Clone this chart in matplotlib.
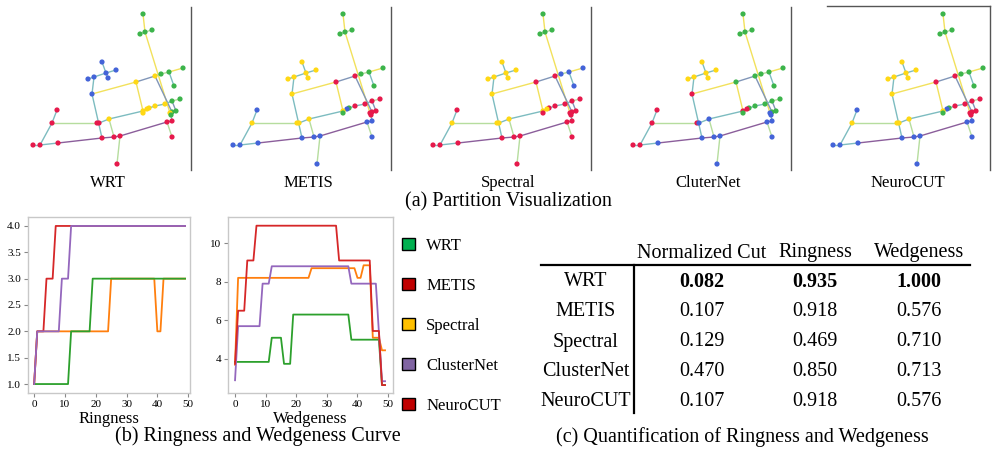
import matplotlib
matplotlib.use("Agg")
import matplotlib.pyplot as plt
from matplotlib.patches import Patch
from matplotlib.lines import Line2D

plt.rcParams['font.family'] = ['Liberation Serif', 'DejaVu Serif']

W, H = 992, 450

# ---- graph (node positions in panel pixels) ----
node_xy = [(143, 14), (145, 32), (140, 34), (152, 30), (102, 62), (106, 73), (116, 70),
           (108, 78), (94, 77), (88, 79), (92, 94), (136, 82), (155, 76), (161, 74),
           (169, 72), (183, 68), (174, 86), (180, 99), (172, 101), (165, 104), (155, 106),
           (149, 108), (147, 109), (143, 111), (176, 111), (172, 112), (170, 113), (171, 115),
           (172, 121), (167, 122), (172, 137), (109, 119), (97, 123), (99, 123), (57, 110),
           (52, 123), (33, 145), (40, 145), (58, 143), (102, 138), (114, 137), (120, 136),
           (117, 164), (143, 113)]

edges = [(0, 1, 'y'), (1, 2, 'g'), (1, 3, 'g'), (1, 26, 'y'), (4, 5, 't'), (5, 6, 't'),
         (5, 7, 't'), (5, 8, 't'), (8, 9, 't'), (8, 10, 't'), (10, 11, 'y'), (11, 12, 'b'),
         (12, 13, 'g'), (13, 14, 'g'), (14, 15, 'y'), (14, 16, 't'), (11, 23, 'y'),
         (12, 25, 'b'), (10, 39, 't'), (32, 33, 't'), (33, 31, 't'), (31, 23, 't'),
         (23, 22, 't'), (22, 21, 't'), (21, 20, 't'), (20, 19, 't'), (19, 18, 't'),
         (18, 17, 'g'), (18, 24, 'b'), (24, 25, 't'), (25, 26, 't'), (26, 27, 't'),
         (27, 28, 't'), (31, 40, 'g'), (35, 32, 'g'), (34, 35, 't'), (35, 37, 't'),
         (36, 37, 't'), (37, 38, 't'), (38, 39, 'p'), (39, 40, 'p'), (40, 41, 'p'),
         (41, 29, 'p'), (29, 28, 'p'), (29, 30, 'g'), (41, 42, 'g'), (43, 23, 't')]

edge_col = {'t': '#7dbcc0', 'y': '#f2e15c', 'g': '#b6dd9e', 'p': '#8b5e9b', 'b': '#8196b8'}
node_col = {'r': '#e6194b', 'b': '#4363d8', 'g': '#3cb44b', 'y': '#ffd814'}

# partition of each node (same order as node_xy)
part_wrt = ("gggg" "bbbbbbb" "yy" "gggggg" "yyyyy" "gg" "y" "g" "rrr" "y"
            "rrrrrrrrrrr" "y")
part_metis = ("gggg" "yyyyyyy" "rr" "gggg" "rrrr" "g" "b" "y" "rrrr" "bbb" "yyy"
              "b" "y" "bbbbbbb" "g")
part_spectral = ("gggg" "yyyyyyy" "rr" "bbbb" "rrrrr" "yy" "rrrrrrr" "yyy" "r" "y"
                 "rrrrrrr" "r")
part_clusternet = ("gggg" "yyyyyy" "r" "ggggggggggg" "rr" "gg" "bbbbbb" "r" "b"
                   "rrrr" "bbbbb" "g")
part_neurocut = part_metis

panel_names = ['WRT', 'METIS', 'Spectral', 'CluterNet', 'NeuroCUT']
panel_parts = [part_wrt, part_metis, part_spectral, part_clusternet, part_neurocut]

# ---- curves (vertices) ----
ring_wrt_x = [0, 11, 12, 18, 19, 49]
ring_wrt_y = [1, 1, 2, 2, 3, 3]
ring_metis_x = [0, 1, 3, 4, 6, 7, 49]
ring_metis_y = [1, 2, 2, 3, 3, 4, 4]
ring_spec_x = [0, 1, 24, 25, 39, 40, 41, 42, 49]
ring_spec_y = [1, 2, 2, 3, 3, 2, 2, 3, 3]
ring_cnet_x = [0, 1, 8, 9, 11, 12, 49]
ring_cnet_y = [1, 2, 2, 3, 3, 4, 4]

wedge_wrt_x = [0, 11, 12, 15, 16, 18, 19, 37, 38, 47, 48, 49]
wedge_wrt_y = [3.85, 3.85, 5.1, 5.1, 3.75, 3.75, 6.3, 6.3, 5.0, 5.0, 2.65, 2.65]
wedge_metis_x = [0, 1, 3, 4, 6, 7, 33, 34, 44, 45, 47, 48, 49]
wedge_metis_y = [3.75, 6.5, 6.5, 9.1, 9.1, 10.9, 10.9, 9.1, 9.1, 5.45, 5.45, 2.65, 2.65]
wedge_spec_x = [0, 1, 24, 25, 39, 40, 41, 42, 44, 45, 47, 48, 49]
wedge_spec_y = [3.7, 8.2, 8.2, 8.7, 8.7, 8.2, 8.2, 8.85, 8.85, 5.1, 5.1, 4.45, 4.45]
wedge_cnet_x = [0, 1, 8, 9, 11, 12, 37, 38, 46, 48, 49]
wedge_cnet_y = [2.9, 5.7, 5.7, 7.9, 7.9, 8.8, 8.8, 7.9, 7.9, 2.85, 2.85]

line_colors = {'WRT': '#2ca02c', 'METIS': '#d62728', 'Spectral': '#ff7f0e', 'ClusterNet': '#9467bd'}

legend_names = ['WRT', 'METIS', 'Spectral', 'ClusterNet', 'NeuroCUT']
legend_colors = ['#00b050', '#c00000', '#ffc000', '#8064a2', '#c00000']

# ---- table ----
tab_methods = ['WRT', 'METIS', 'Spectral', 'ClusterNet', 'NeuroCUT']
tab_cols = ['Normalized Cut', 'Ringness', 'Wedgeness']
tab_ncut = [0.082, 0.107, 0.129, 0.470, 0.107]
tab_ring = [0.935, 0.918, 0.469, 0.850, 0.918]
tab_wedge = [1.000, 0.576, 0.710, 0.713, 0.576]


def rect(x, y, w, h):
    return [x / W, 1 - (y + h) / H, w / W, h / H]


fig = plt.figure(figsize=(W / 100, H / 100), dpi=100)

# (a) partition panels
for i, (name, part) in enumerate(zip(panel_names, panel_parts)):
    if i < 4:
        ax = fig.add_axes(rect(200 * i, 7, 191, 163))
        ax.set_xlim(0, 191)
        ax.set_ylim(170, 7)
        spines_on = ['right']
    else:
        ax = fig.add_axes(rect(827, 6, 163, 164))
        ax.set_xlim(27, 190)
        ax.set_ylim(170, 6)
        spines_on = ['right', 'top']
    for s in ax.spines:
        ax.spines[s].set_visible(s in spines_on)
        ax.spines[s].set_color('#555555')
        ax.spines[s].set_linewidth(1.0)
    ax.set_xticks([])
    ax.set_yticks([])
    for a, b, c in edges:
        ax.plot([node_xy[a][0], node_xy[b][0]], [node_xy[a][1], node_xy[b][1]],
                color=edge_col[c], lw=1.0, zorder=1)
    xs = [p[0] for p in node_xy]
    ys = [p[1] for p in node_xy]
    ax.scatter(xs, ys, s=14, c=[node_col[k] for k in part], zorder=2, linewidths=0)
    cx = [108, 308, 508, 708, 908][i]
    fig.text(cx / W, 1 - 183 / H, name, ha='center', va='center', fontsize=12)

fig.text(508 / W, 1 - 202 / H, '(a) Partition Visualization', ha='center', va='center', fontsize=14.5)


def style_curve_ax(ax):
    for s in ax.spines.values():
        s.set_color('#c8c8c8')
        s.set_linewidth(1.0)
    ax.tick_params(labelsize=8, length=3, width=0.8, color='#888888', pad=2)
    ax.set_xticks([0, 10, 20, 30, 40, 50])


# (b) curves
ax1 = fig.add_axes(rect(28, 217, 162, 176))
ax1.plot(ring_spec_x, ring_spec_y, color=line_colors['Spectral'], lw=1.3)
ax1.plot(ring_wrt_x, ring_wrt_y, color=line_colors['WRT'], lw=1.3)
ax1.plot(ring_metis_x, ring_metis_y, color=line_colors['METIS'], lw=1.3)
ax1.plot(ring_cnet_x, ring_cnet_y, color=line_colors['ClusterNet'], lw=1.3)
ax1.set_xlim(-2, 50.6)
ax1.set_ylim(0.83, 4.17)
ax1.set_yticks([1.0, 1.5, 2.0, 2.5, 3.0, 3.5, 4.0])
ax1.set_yticklabels(['1.0', '1.5', '2.0', '2.5', '3.0', '3.5', '4.0'])
style_curve_ax(ax1)
ax1.set_xlabel('Ringness', fontsize=12, labelpad=1.5)

ax2 = fig.add_axes(rect(228, 217, 165, 176))
ax2.plot(wedge_spec_x, wedge_spec_y, color=line_colors['Spectral'], lw=1.3)
ax2.plot(wedge_wrt_x, wedge_wrt_y, color=line_colors['WRT'], lw=1.3)
ax2.plot(wedge_cnet_x, wedge_cnet_y, color=line_colors['ClusterNet'], lw=1.3)
ax2.plot(wedge_metis_x, wedge_metis_y, color=line_colors['METIS'], lw=1.3)
ax2.set_xlim(-2.3, 51.6)
ax2.set_ylim(2.24, 11.35)
ax2.set_yticks([4, 6, 8, 10])
style_curve_ax(ax2)
ax2.set_xlabel('Wedgeness', fontsize=12, labelpad=1.5)

handles = [Patch(facecolor=c, edgecolor='black', linewidth=1.0) for c in legend_colors]
fig.legend(handles, legend_names, loc='upper left', bbox_to_anchor=(402 / W, 1 - 238 / H),
           frameon=False, fontsize=12, handlelength=0.75, handleheight=0.75,
           handletextpad=0.7, labelspacing=1.44, borderpad=0, borderaxespad=0)

fig.text(258 / W, 1 - 436 / H, '(b) Ringness and Wedgeness Curve', ha='center', va='center', fontsize=14.5)

# (c) table
col_x = [702, 815, 919]
row_x = 586
for cx, col in zip(col_x, tab_cols):
    fig.text(cx / W, 1 - 253 / H, col, ha='center', va='center', fontsize=14.5)
row_y = [282, 312, 342, 372, 401]
for r, m in enumerate(tab_methods):
    y = 1 - row_y[r] / H
    fw = 'bold' if r == 0 else 'normal'
    fig.text(row_x / W, y, m, ha='center', va='center', fontsize=14.5)
    for cx, vals in zip(col_x, [tab_ncut, tab_ring, tab_wedge]):
        fig.text(cx / W, y, '%.3f' % vals[r], ha='center', va='center', fontsize=14.5, fontweight=fw)

fig.add_artist(Line2D([541 / W, 970 / W], [1 - 265 / H, 1 - 265 / H], color='black', lw=1.6))
fig.add_artist(Line2D([634 / W, 634 / W], [1 - 265 / H, 1 - 413 / H], color='black', lw=1.6))

fig.text(742 / W, 1 - 437 / H, '(c) Quantification of Ringness and Wedgeness', ha='center', va='center', fontsize=14.5)

fig.savefig('out.png', dpi=100)
